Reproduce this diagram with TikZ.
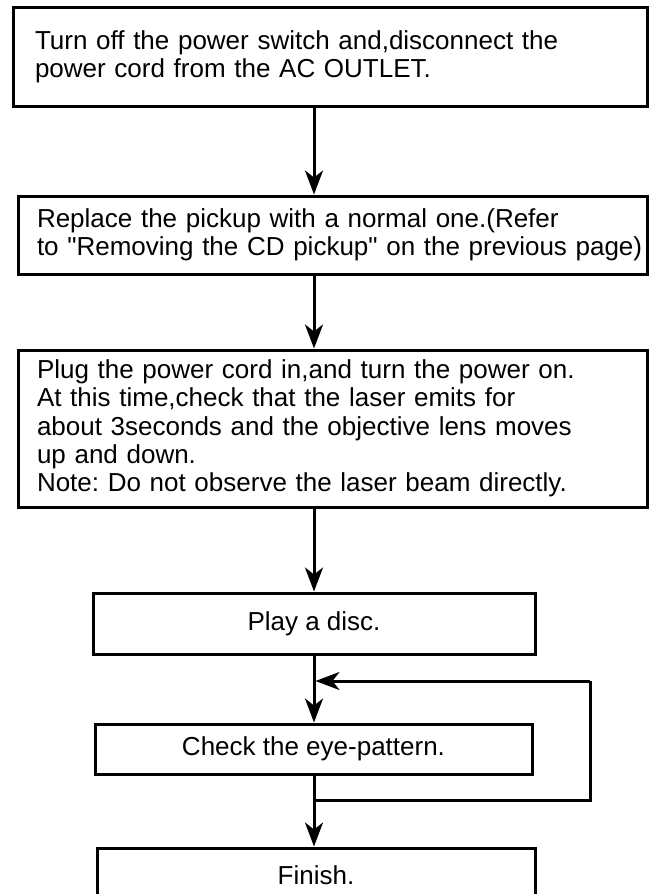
\documentclass[tikz,border=0pt]{standalone}
\usepackage{fontspec}
\setmainfont{Liberation Sans}[Ligatures=TeXOff]
\usetikzlibrary{arrows.meta}
\begin{document}
\frenchspacing
\begin{tikzpicture}[x=1pt,y=-1pt,
  box/.style={draw, rectangle, line width=3pt, inner ysep=2pt,
    font=\fontsize{26}{28.3}\selectfont},
  wide/.style={box, minimum width=629pt, inner xsep=19pt, text width=591pt, align=left},
  narrow/.style={box, align=center},
  conn/.style={line width=3pt},
  arr/.style={conn, -{Stealth[length=24pt,width=18pt,inset=7pt]}}]
\useasboundingbox (0,0) rectangle (665,894);

\node[box, minimum width=634pt, minimum height=99pt, inner xsep=22pt,
      text width=590pt, align=left] (b1) at (330,56.5)
  {\mbox{Turn off the power switch and,disconnect the}\\
   \mbox{power cord from the AC OUTLET.}};

\node[wide, minimum height=78pt] (b2) at (332.5,235)
  {\mbox{Replace the pickup with a normal one.(Refer}\\
   \mbox{to "Removing the CD pickup" on the previous page)}};

\node[wide, minimum height=157pt] (b3) at (332.5,428.5)
  {\mbox{Plug the power cord in,and turn the power on.}\\
   \mbox{At this time,check that the laser emits for}\\
   \mbox{about 3seconds and the objective lens moves}\\
   \mbox{up and down.}\\
   \mbox{Note: Do not observe the laser beam directly.}};

\node[narrow, minimum width=442pt, minimum height=61pt] (b4) at (314,623.5) {Play a disc.};
\node[narrow, minimum width=437pt, minimum height=50pt] (b5) at (313.5,749) {Check the eye-pattern.};
\node[narrow, minimum width=438pt, minimum height=54pt] (b6) at (316,875) {Finish.};

\coordinate (jb) at (314,800);
\coordinate (jr) at (590,800);
\coordinate (jt) at (590,681);
\coordinate (ja) at (315.5,681);

\draw[arr] (b1.south -| b4) -- (b2.north -| b4);
\draw[arr] (b2.south -| b4) -- (b3.north -| b4);
\draw[arr] (b3.south -| b4) -- (b4.north);
\draw[arr] (b4.south) -- (b5.north -| b4);
\draw[arr] (b5.south -| b4) -- (b6.north -| b4);
\draw[conn] (jb) -- (jr) -- (jt);
\draw[arr] (jt) -- (ja);
\end{tikzpicture}
\end{document}
